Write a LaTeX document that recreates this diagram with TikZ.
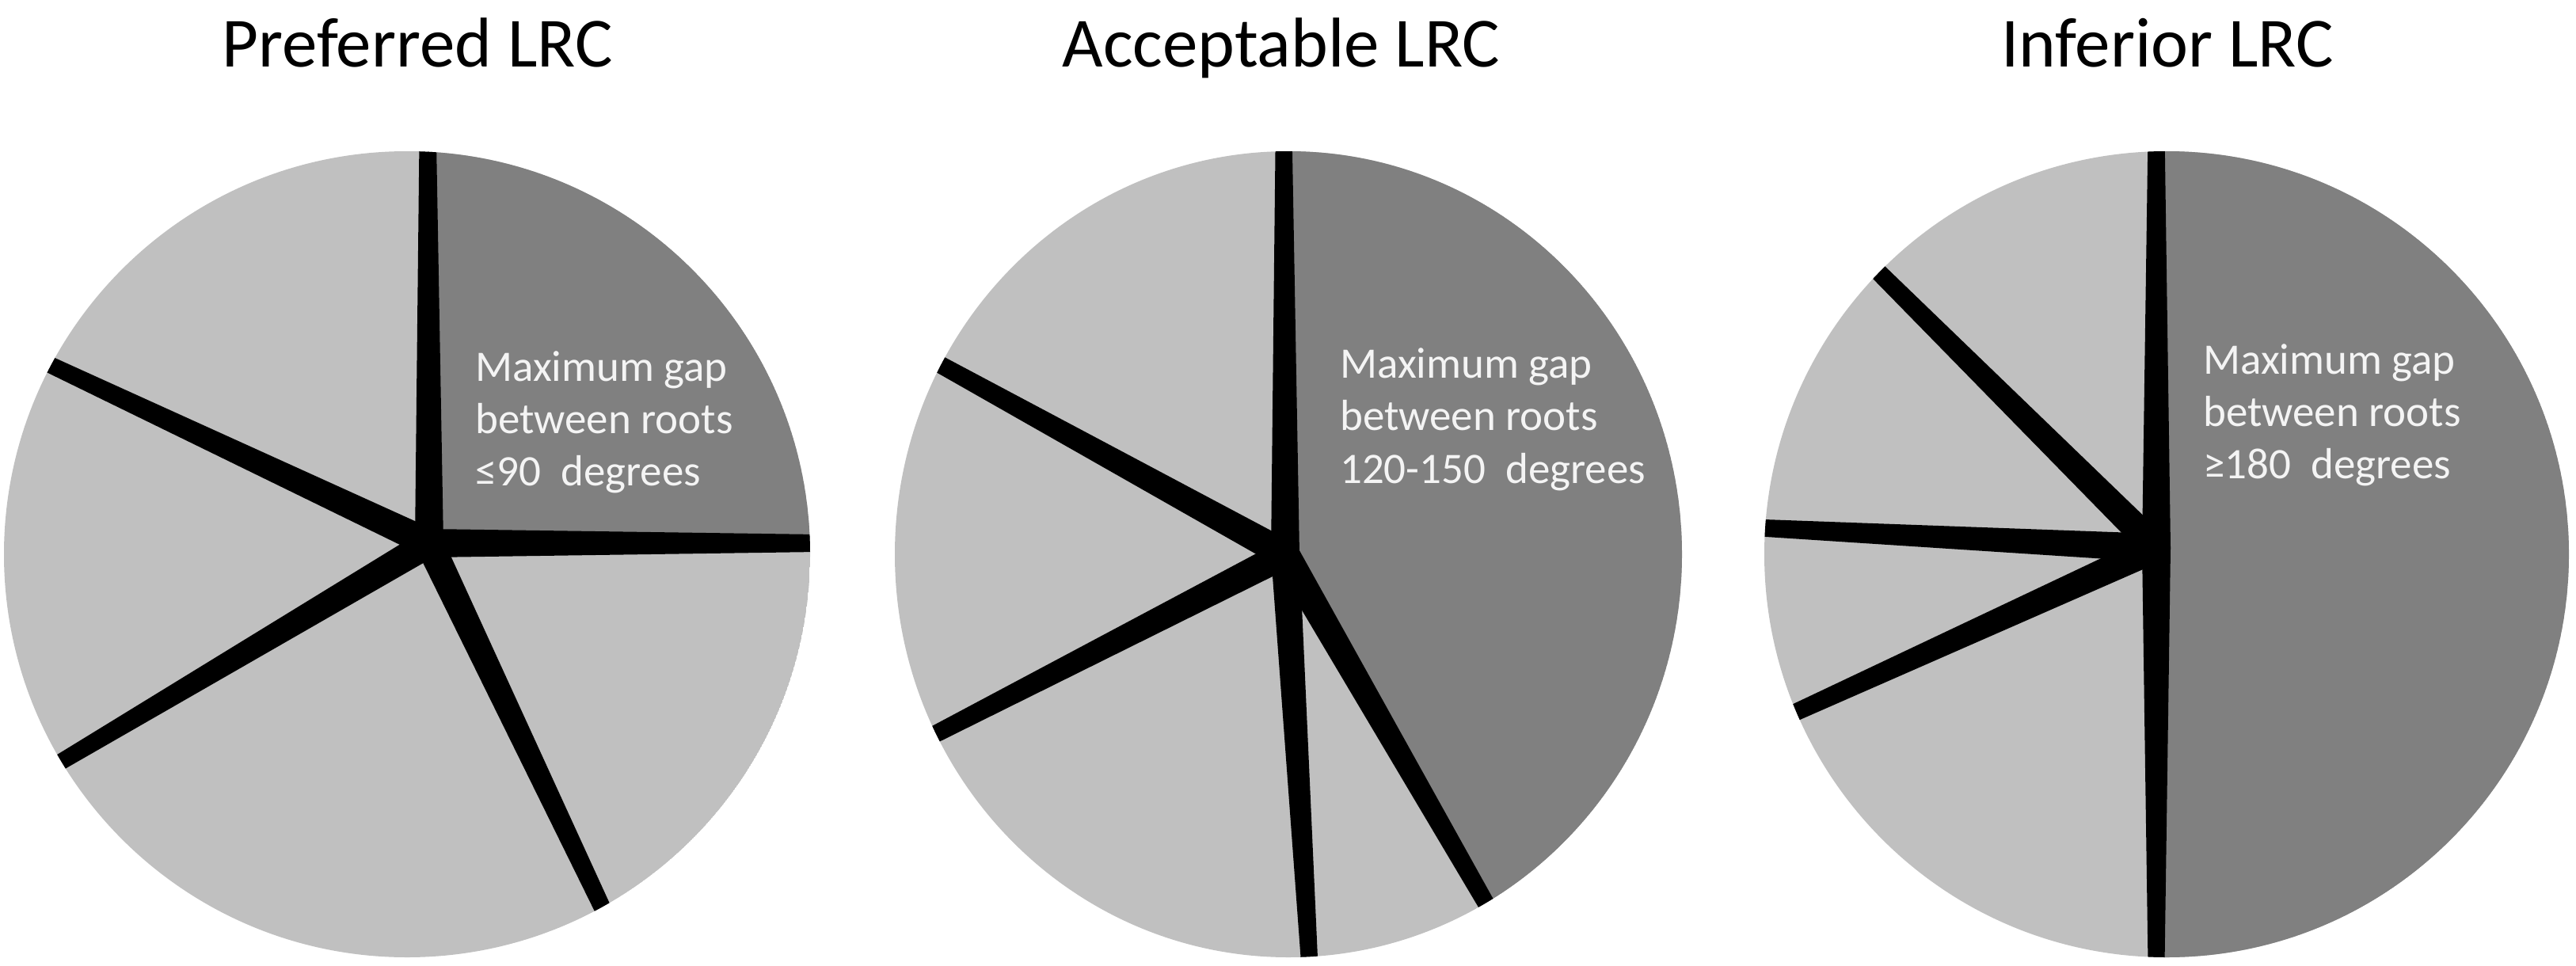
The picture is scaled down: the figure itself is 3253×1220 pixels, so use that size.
\documentclass[tikz,border=0pt]{standalone}
\usepackage{fontspec}
\setmainfont{Carlito}
\usetikzlibrary{calc}
\definecolor{lightpie}{RGB}{192,192,192}
\definecolor{darkpie}{RGB}{128,128,128}
\definecolor{labelwhite}{RGB}{244,244,244}
% spoke from meeting point #1 in screen direction #2, tapered, clipped by the pie
\newcommand\piespoke[2]{%
  \coordinate (pe) at ($(#1)+(#2:560)$);
  \fill[black] ($(#1)!18pt!90:(pe)$) -- ($(pe)!10pt!-90:(#1)$) -- ($(pe)!10pt!90:(#1)$) -- ($(#1)!18pt!-90:(pe)$) -- cycle;}
\begin{document}
\begin{tikzpicture}[x=1pt,y=-1pt,
  title/.style={font=\fontsize{89}{107}\selectfont, anchor=base, inner sep=0pt},
  inlabel/.style={font=\fontsize{55}{66}\selectfont, anchor=base west, inner sep=0pt, text=labelwhite}]
\useasboundingbox (0,0) rectangle (3253,1220);

% titles
\node[title] (t1) at (527,85) {Preferred LRC};
\node[title] (t2) at (1618,85) {Acceptable LRC};
\node[title] (t3) at (2737,85) {Inferior LRC};

% ---------- pie 1
\coordinate (C1) at (514,700);
\coordinate (M1) at (542,686);
\begin{scope}
  \clip (C1) ellipse[x radius=509, y radius=509];
  \fill[lightpie] (C1) ellipse[x radius=509, y radius=509];
  \fill[darkpie] (M1) -- ($(M1)+(-90.2:1200)$) -- ($(M1)+(-45:1200)$) -- ($(M1)+(0:1200)$) -- cycle;
  \piespoke{M1}{-90.2}
  \piespoke{M1}{0}
  \piespoke{M1}{64.6}
  \piespoke{M1}{149.3}
  \piespoke{M1}{205.2}
  \fill[black] (M1) circle[radius=18];
\end{scope}
\node[inlabel] (a1) at (600,481) {Maximum gap};
\node[inlabel] (a2) at (600,547) {between roots};
\node[inlabel] (a3) at (600,613) {≤90~~degrees};

% ---------- pie 2
\coordinate (C2) at (1627,700);
\coordinate (M2) at (1623,700);
\begin{scope}
  \clip (C2) ellipse[x radius=497, y radius=509];
  \fill[lightpie] (C2) ellipse[x radius=497, y radius=509];
  \fill[darkpie] (M2) -- ($(M2)+(-90.2:1200)$) -- ($(M2)+(-40:1200)$) -- ($(M2)+(10:1200)$) -- ($(M2)+(60.1:1200)$) -- cycle;
  \piespoke{M2}{-90.2}
  \piespoke{M2}{86.6}
  \piespoke{M2}{60.1}
  \piespoke{M2}{152.8}
  \piespoke{M2}{208.8}
  \fill[black] (M2) circle[radius=18];
\end{scope}
\node[inlabel] (b1) at (1692,477) {Maximum gap};
\node[inlabel] (b2) at (1692,543) {between roots};
\node[inlabel] (b3) at (1692,610) {120-150~~degrees};

% ---------- pie 3
\coordinate (C3) at (2736,700);
\coordinate (M3) at (2723,692);
\begin{scope}
  \clip (C3) ellipse[x radius=508, y radius=509];
  \fill[lightpie] (C3) ellipse[x radius=508, y radius=509];
  \fill[darkpie] (M3) -- ($(M3)+(-90:1200)$) -- ($(M3)+(-30:1200)$) -- ($(M3)+(30:1200)$) -- ($(M3)+(90:1200)$) -- cycle;
  \piespoke{M3}{-90}
  \piespoke{M3}{90}
  \piespoke{M3}{224.8}
  \piespoke{M3}{182.9}
  \piespoke{M3}{155.5}
  \fill[black] (M3) circle[radius=18];
\end{scope}
\node[inlabel] (c1) at (2782,472) {Maximum gap};
\node[inlabel] (c2) at (2782,538) {between roots};
\node[inlabel] (c3) at (2782,604) {≥180~~degrees};
\end{tikzpicture}
\end{document}
